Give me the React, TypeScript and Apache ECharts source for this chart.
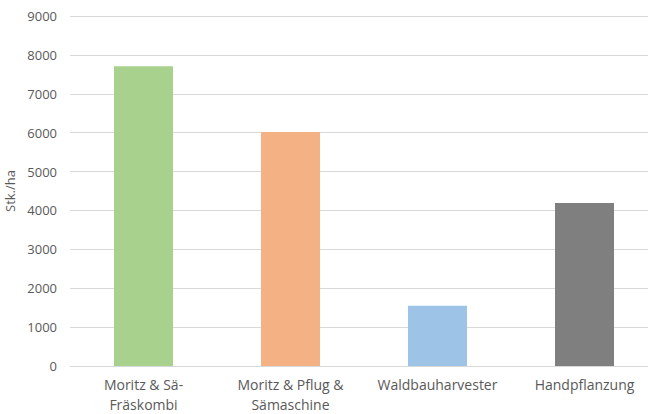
import React, { useEffect, useRef } from "react";
import * as echarts from "echarts";

const categories = [
  "Moritz & Sä-\nFräskombi",
  "Moritz & Pflug &\nSämaschine",
  "Waldbauharvester",
  "Handpflanzung",
];
const values = [7710, 6020, 1550, 4190];
const barColors = ["#A9D18E", "#F4B183", "#9DC3E6", "#7F7F7F"];
const yAxisName = "Stk./ha";

export default function App() {
  const ref = useRef<HTMLDivElement>(null);

  useEffect(() => {
    document.body.style.margin = "0";
    if (!ref.current) return;
    const chart = echarts.init(ref.current, undefined, { renderer: "svg" });
    const font = "'Open Sans', 'Noto Sans', sans-serif";
    chart.setOption({
      animation: false,
      backgroundColor: "#ffffff",
      grid: {
        left: 70,
        top: 16,
        height: 350,
        width: 588,
        containLabel: false,
        outerBoundsMode: "none",
      },
      xAxis: {
        type: "category",
        data: categories,
        axisLine: { show: true, lineStyle: { color: "#D9D9D9", width: 1 } },
        axisTick: { show: false },
        axisLabel: {
          interval: 0,
          color: "#595959",
          fontFamily: font,
          fontSize: 14,
          lineHeight: 20,
          margin: 8,
        },
      },
      yAxis: {
        type: "value",
        min: 0,
        max: 9000,
        interval: 1000,
        name: yAxisName,
        nameLocation: "middle",
        nameGap: 47,
        nameTextStyle: { color: "#595959", fontFamily: font, fontSize: 13 },
        axisLine: { show: false },
        axisTick: { show: false },
        splitLine: { lineStyle: { color: "#D9D9D9", width: 1 } },
        axisLabel: {
          color: "#595959",
          fontFamily: font,
          fontSize: 13,
          margin: 13,
          formatter: (v: number) => String(v),
        },
      },
      series: [
        {
          type: "bar",
          barWidth: 59,
          data: values.map((v, i) => ({ value: v, itemStyle: { color: barColors[i] } })),
        },
      ],
    });
    return () => chart.dispose();
  }, []);

  return <div ref={ref} style={{ width: 648, height: 414 }} />;
}
